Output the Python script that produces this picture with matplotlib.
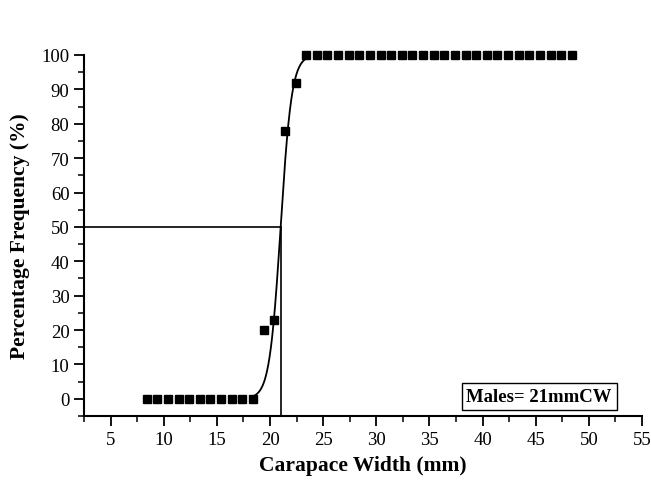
import numpy as np
import matplotlib
matplotlib.use("Agg")
import matplotlib.pyplot as plt
from matplotlib.ticker import MultipleLocator

# Data
carapace_width = [8.4, 9.4, 10.4, 11.4, 12.4, 13.4, 14.4, 15.4, 16.4, 17.4, 18.4,
                  19.4, 20.4, 21.4, 22.4,
                  23.4, 24.4, 25.4, 26.4, 27.4, 28.4, 29.4, 30.4, 31.4, 32.4, 33.4,
                  34.4, 35.4, 36.4, 37.4, 38.4, 39.4, 40.4, 41.4, 42.4, 43.4, 44.4,
                  45.4, 46.4, 47.4, 48.4]
percent_mature = [0, 0, 0, 0, 0, 0, 0, 0, 0, 0, 0,
                  20, 23, 78, 92,
                  100, 100, 100, 100, 100, 100, 100, 100, 100, 100, 100,
                  100, 100, 100, 100, 100, 100, 100, 100, 100, 100, 100,
                  100, 100, 100, 100]

# Logistic fit parameters
L50 = 21.0
slope = 1.9
curve_x_start, curve_x_end = 18.2, 23.4

plt.rcParams['font.family'] = ['Liberation Serif', 'DejaVu Serif']

fig = plt.figure(figsize=(6.51, 4.85), dpi=100)
ax = fig.add_axes([84/651, (485-417)/485, (642-84)/651, (417-56)/485])

xc = np.linspace(curve_x_start, curve_x_end, 300)
yc = 100.0 / (1.0 + np.exp(-slope * (xc - L50)))
ax.plot(xc, yc, color='black', lw=1.3, zorder=2)

ax.plot(carapace_width, percent_mature, 's', color='black', ms=6.3,
        clip_on=False, zorder=3)

# L50 guide lines
ax.plot([2.5, L50], [50, 50], color='black', lw=1.2, zorder=1)
ax.plot([L50, L50], [-5, 50], color='black', lw=1.2, zorder=1)

ax.set_xlim(2.5, 55)
ax.set_ylim(-5, 100)

ax.xaxis.set_major_locator(MultipleLocator(5))
ax.xaxis.set_minor_locator(MultipleLocator(2.5))
ax.yaxis.set_major_locator(MultipleLocator(10))
ax.yaxis.set_minor_locator(MultipleLocator(5))

for s in ['top', 'right']:
    ax.spines[s].set_visible(False)
for s in ['left', 'bottom']:
    ax.spines[s].set_linewidth(1.5)

ax.tick_params(which='major', direction='out', length=7, width=1.3, labelsize=13.5)
ax.tick_params(which='minor', direction='out', length=4, width=1.1)

ax.set_xlabel('Carapace Width (mm)', fontsize=15.5, fontweight='bold', labelpad=5)
ax.set_ylabel('Percentage Frequency (%)', fontsize=15.5, fontweight='bold', labelpad=8)

ax.text(0.946, 0.054, 'Males= 21mmCW', transform=ax.transAxes, ha='right', va='center',
        fontsize=13.5, fontweight='bold',
        bbox=dict(boxstyle='square,pad=0.25', facecolor='white', edgecolor='black', lw=1.0))

fig.savefig('out.png', dpi=100)
